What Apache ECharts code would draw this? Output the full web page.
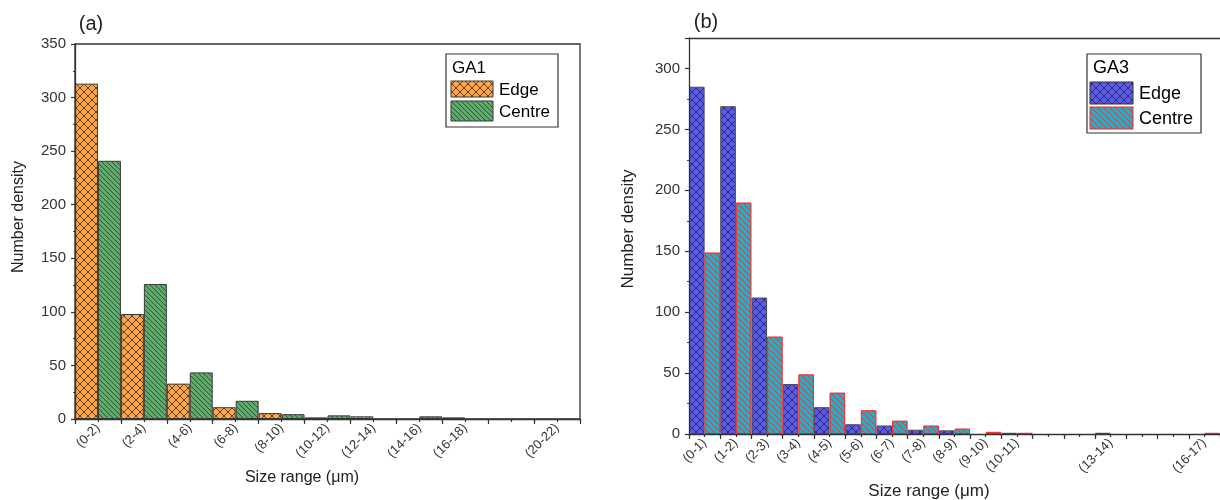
<!DOCTYPE html>
<html>
<head>
<meta charset="utf-8">
<script src="https://cdn.jsdelivr.net/npm/echarts@6/dist/echarts.min.js"></script>
<style>
  html, body { margin: 0; padding: 0; background: #fff; }
  #chart { width: 1220px; height: 500px; }
</style>
</head>
<body>
<div id="chart"></div>
<script>
// ---- Panel (a): GA1 size distribution ----
const rangesGA1 = ['(0-2)', '(2-4)', '(4-6)', '(6-8)', '(8-10)', '(10-12)',
                   '(12-14)', '(14-16)', '(16-18)', '(18-20)', '(20-22)'];
const labelledGA1 = ['(0-2)', '(2-4)', '(4-6)', '(6-8)', '(8-10)', '(10-12)',
                     '(12-14)', '(14-16)', '(16-18)', '(20-22)'];
const edgeGA1   = [313, 98, 33, 11, 5.5, 1.5, 2.5, 0, 1.5, 0, 0];
const centreGA1 = [241, 126, 43.5, 17, 4.5, 3.4, 0, 2.5, 0, 0, 0];

// ---- Panel (b): GA3 size distribution ----
const rangesGA3 = ['(0-1)', '(1-2)', '(2-3)', '(3-4)', '(4-5)', '(5-6)', '(6-7)',
                   '(7-8)', '(8-9)', '(9-10)', '(10-11)', '(11-12)', '(12-13)',
                   '(13-14)', '(14-15)', '(15-16)', '(16-17)'];
const labelledGA3 = ['(0-1)', '(1-2)', '(2-3)', '(3-4)', '(4-5)', '(5-6)', '(6-7)',
                     '(7-8)', '(8-9)', '(9-10)', '(10-11)', '(13-14)', '(16-17)'];
const edgeGA3   = [285, 269, 112, 41, 22, 8, 7, 3.5, 3, 0, 1, 0, 0, 1, 0, 0, 0];
const centreGA3 = [149, 190, 80, 49, 34, 19.5, 11, 7, 4.5, 1.8, 1, 0, 0, 0, 0, 0, 1];

const FONT = '"Liberation Sans", Arial, sans-serif';
const AXIS = '#333';

// Hatched fill tiles: "\" lines, optionally crossed with "/" lines
function hatch(fill, stroke, period, cross, alpha) {
  const c = document.createElement('canvas');
  c.width = c.height = period;
  const g = c.getContext('2d');
  g.fillStyle = fill;
  g.fillRect(0, 0, period, period);
  g.strokeStyle = stroke;
  g.globalAlpha = alpha;
  g.lineWidth = 1;
  g.beginPath();
  for (const k of [-period, 0, period]) {
    g.moveTo(k, 0); g.lineTo(k + period, period);
    if (cross) { g.moveTo(k + period, 0); g.lineTo(k, period); }
  }
  g.stroke();
  return { image: c, repeat: 'repeat' };
}

const fillEdgeA   = hatch('#FCA64B', '#3b2a12', 8, true, 0.8);
const fillCentreA = hatch('#60AB6B', '#1f3a22', 5, false, 0.75);
const fillEdgeB   = hatch('#5B5BE8', '#1c1c55', 8, true, 0.75);
const fillCentreB = hatch('#17B3CA', '#E0303A', 6, false, 0.85);

const nz = arr => arr.map(v => (v === 0 ? '-' : v));
const slots = arr => arr.flatMap(r => [r + ' Edge', r + ' Centre']);

function primaryX(gridIndex, data, shown) {
  return {
    type: 'category', gridIndex, data, position: 'bottom', boundaryGap: true, z: 3,
    axisLine: { lineStyle: { color: AXIS, width: 1.3 } },
    axisTick: { show: true, interval: 0, length: 5, lineStyle: { color: AXIS, width: 1.2 } },
    axisLabel: {
      interval: 0, rotate: 45, margin: 7, fontSize: 13, color: '#333', fontFamily: FONT,
      formatter: v => (shown.includes(v) ? v : '')
    },
    splitLine: { show: false }
  };
}
// finer ticks between the Edge and Centre bars of each size range
function slotX(gridIndex, data) {
  return {
    type: 'category', gridIndex, data: slots(data), position: 'bottom', offset: 0,
    boundaryGap: true, z: 3,
    axisLine: { show: false },
    axisTick: { show: true, interval: 0, length: 3, lineStyle: { color: AXIS, width: 1.2 } },
    axisLabel: { show: false },
    splitLine: { show: false }
  };
}
// plain frame line along the top of panel (b)
function topLine(gridIndex, data) {
  return {
    type: 'category', gridIndex, data, position: 'top', boundaryGap: true,
    axisLine: { show: true, lineStyle: { color: AXIS, width: 1.3 } },
    axisTick: { show: false }, axisLabel: { show: false }, splitLine: { show: false }
  };
}
function valueY(gridIndex, max, hideMax) {
  return {
    type: 'value', gridIndex, position: 'left', min: 0, max, interval: 50, z: 3,
    axisLine: { show: true, lineStyle: { color: AXIS, width: 1.3 } },
    axisTick: { show: true, length: 4, lineStyle: { color: AXIS, width: 1.2 } },
    minorTick: { show: true, splitNumber: 2, length: 2, lineStyle: { color: AXIS, width: 1 } },
    splitLine: { show: false },
    axisLabel: { fontSize: 15, color: '#333', margin: 9, fontFamily: FONT, showMaxLabel: !hideMax }
  };
}
function bars(name, xi, yi, data, fill, border) {
  return {
    type: 'bar', name, xAxisIndex: xi, yAxisIndex: yi, data: nz(data),
    barGap: '0%', barCategoryGap: '0%',
    itemStyle: { color: fill, borderColor: border, borderWidth: 1 },
    emphasis: { disabled: true }
  };
}
function legendBox(x, y, w, h, title, fs, items) {
  const children = [
    { type: 'rect', shape: { x, y, width: w, height: h },
      style: { fill: '#fff', stroke: '#333', lineWidth: 1.2 } },
    { type: 'text', x: x + 6, y: y + 14,
      style: { text: title, font: fs + 'px ' + FONT, fill: '#000', verticalAlign: 'middle' } }
  ];
  items.forEach(it => {
    children.push({ type: 'rect', shape: { x: it.sx, y: it.sy, width: it.sw, height: it.sh },
      style: { fill: it.fill, stroke: it.border, lineWidth: 1 } });
    children.push({ type: 'text', x: it.sx + it.sw + 6, y: it.sy + it.sh / 2 + 1,
      style: { text: it.label, font: fs + 'px ' + FONT, fill: '#000', verticalAlign: 'middle' } });
  });
  return { type: 'group', z: 10, children };
}
function txt(text, x, y, size, rot) {
  return { type: 'text', x, y, rotation: rot || 0, z: 10,
    style: { text, font: size + 'px ' + FONT, fill: '#222', align: 'center', verticalAlign: 'middle' } };
}

const chart = echarts.init(document.getElementById('chart'), null, { renderer: 'canvas' });
chart.setOption({
  animation: false,
  backgroundColor: '#fff',
  textStyle: { fontFamily: FONT },
  grid: [
    { left: 75, top: 44, width: 505, height: 375, show: true, borderColor: AXIS, borderWidth: 1.3, backgroundColor: 'transparent' },
    { left: 689, top: 38, width: 532, height: 396, show: false }
  ],
  xAxis: [
    primaryX(0, rangesGA1, labelledGA1), slotX(0, rangesGA1),
    primaryX(1, rangesGA3, labelledGA3), slotX(1, rangesGA3),
    topLine(1, rangesGA3)
  ],
  yAxis: [ valueY(0, 350, false), valueY(1, 325, true) ],
  series: [
    bars('Edge',   0, 0, edgeGA1,   fillEdgeA,   '#3a3a3a'),
    bars('Centre', 0, 0, centreGA1, fillCentreA, '#3a3a3a'),
    bars('Edge',   2, 1, edgeGA3,   fillEdgeB,   '#4a4a5a'),
    bars('Centre', 2, 1, centreGA3, fillCentreB, '#FF2020')
  ],
  graphic: [
    txt('(a)', 91, 24, 20),
    txt('(b)', 706, 22, 20),
    txt('Number density', 19, 217, 16, Math.PI / 2),
    txt('Number density', 628, 229, 17, Math.PI / 2),
    txt('Size range (\u03bcm)', 302, 478, 16),
    txt('Size range (\u03bcm)', 929, 491, 17),
    legendBox(446, 54, 112, 73, 'GA1', 17, [
      { sx: 451, sy: 81, sw: 42, sh: 16, fill: fillEdgeA, border: '#3a3a3a', label: 'Edge' },
      { sx: 451, sy: 101, sw: 42, sh: 20, fill: fillCentreA, border: '#3a3a3a', label: 'Centre' }
    ]),
    legendBox(1087, 54, 114, 79, 'GA3', 18, [
      { sx: 1090, sy: 82, sw: 43, sh: 22, fill: fillEdgeB, border: '#333', label: 'Edge' },
      { sx: 1090, sy: 107, sw: 43, sh: 22, fill: fillCentreB, border: '#FF2020', label: 'Centre' }
    ])
  ]
});
</script>
</body>
</html>
